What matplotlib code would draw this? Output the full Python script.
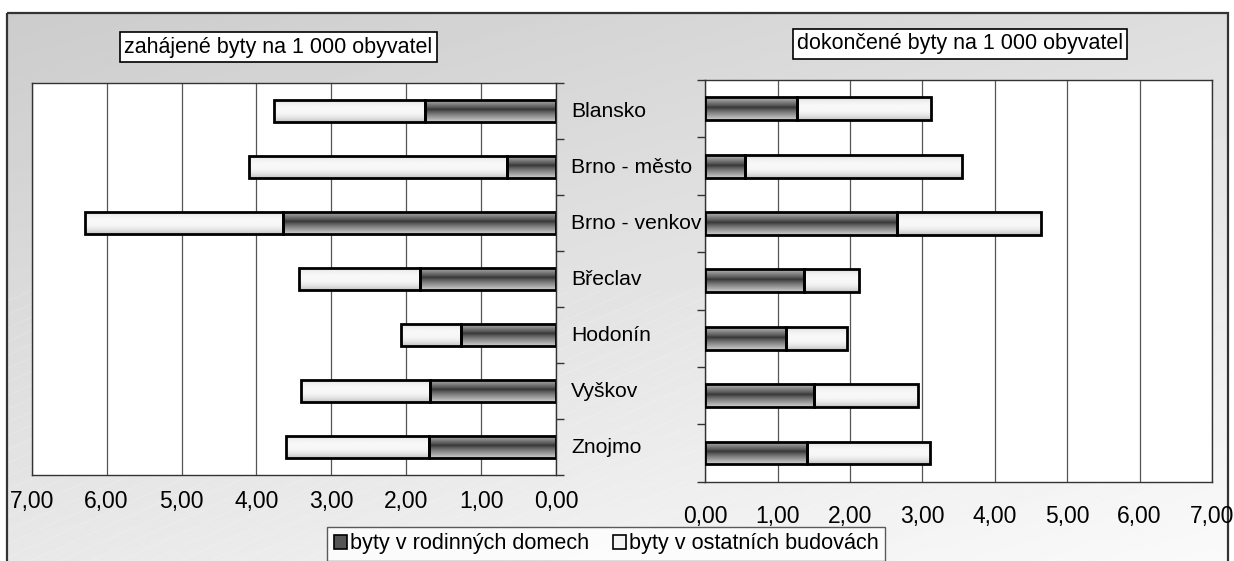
import numpy as np
import matplotlib
matplotlib.use("Agg")
import matplotlib.pyplot as plt
from matplotlib.patches import Rectangle, Patch
from matplotlib.ticker import FixedLocator, FuncFormatter

plt.rcParams['font.family'] = ['Liberation Sans', 'DejaVu Sans']

# data
okresy = ['Blansko', 'Brno - město', 'Brno - venkov', 'Břeclav', 'Hodonín', 'Vyškov', 'Znojmo']
zahajene_rd = [1.75, 0.66, 3.64, 1.81, 1.27, 1.68, 1.69]
zahajene_ost = [2.02, 3.44, 2.65, 1.62, 0.80, 1.73, 1.92]
dokoncene_rd = [1.26, 0.55, 2.65, 1.37, 1.11, 1.50, 1.41]
dokoncene_ost = [1.86, 3.00, 1.99, 0.76, 0.85, 1.44, 1.70]
ticks = [0, 1, 2, 3, 4, 5, 6, 7]
legenda = ['byty v rodinných domech', 'byty v ostatních budovách']

W, H = 1234, 561
fig = plt.figure(figsize=(W / 100, H / 100), dpi=100)
fig.patch.set_facecolor('white')

# gray gradient background inside frame
bg = fig.add_axes([0, 0, 1, 1], zorder=-10)
yy, xx = np.mgrid[0:1:200j, 0:1:400j]
g = 0.80 + 0.11 * yy + 0.07 * xx
bg.imshow(g, cmap='gray', vmin=0, vmax=1, extent=[7, 1228, 561, 13],
          aspect='auto', interpolation='bilinear')
for k in range(-40, 60):
    x0 = k * 30
    bg.plot([x0, x0 + 600], [561, 561 - 600 * 0.45], color='white', lw=0.5, alpha=0.25)
bg.add_patch(Rectangle((7, 13), 1221, 560, fill=False, edgecolor='#333333', lw=1.6, zorder=20))
bg.set_xlim(0, W)
bg.set_ylim(H, 0)
bg.axis('off')

# shading for the bars
t = np.linspace(0, 1, 64)
dark = 0.2 + 0.6 * np.abs(t - 0.45) ** 0.8 / 0.55 ** 0.8
dark = np.clip(dark, 0, 0.82)[:, None]
light = 0.97 - 0.22 * np.abs(t - 0.45) ** 2.5 / 0.55 ** 2.5
light = light[:, None]


def shade(ax, bars, grad):
    for p in bars:
        x, y, w, h = p.get_x(), p.get_y(), p.get_width(), p.get_height()
        im = ax.imshow(grad, cmap='gray', vmin=0, vmax=1, extent=[x, x + w, y + h, y],
                       aspect='auto', interpolation='bilinear', zorder=2.5)
        im.set_clip_path(p)


def draw(ax, rd, ost):
    pos = np.arange(len(okresy))
    b1 = ax.barh(pos, rd, height=0.4, facecolor='none', edgecolor='black', lw=2, zorder=3)
    b2 = ax.barh(pos, ost, left=rd, height=0.4, facecolor='none', edgecolor='black', lw=2, zorder=3)
    shade(ax, b1, dark)
    shade(ax, b2, light)
    ax.set_xlim(0, 7)
    ax.set_ylim(len(okresy) - 0.5, -0.5)
    ax.set_facecolor('white')
    ax.xaxis.set_major_locator(FixedLocator(ticks))
    ax.xaxis.set_major_formatter(FuncFormatter(lambda v, p: f'{v:.2f}'.replace('.', ',')))
    ax.grid(axis='x', color='#555555', lw=0.9, zorder=1)
    ax.set_axisbelow(True)
    ax.tick_params(axis='x', length=0, labelsize=16.5)
    ax.yaxis.set_major_locator(FixedLocator(np.arange(-0.5, len(okresy), 1)))
    ax.tick_params(axis='y', direction='out', length=6, width=1, color='#333333')
    for s in ax.spines.values():
        s.set_color('#333333')
        s.set_linewidth(1)


ax1 = fig.add_axes([31.7 / W, 1 - 475 / H, (556 - 31.7) / W, (475 - 83.3) / H])
draw(ax1, zahajene_rd, zahajene_ost)
ax1.invert_xaxis()
ax1.yaxis.tick_right()
ax1.set_yticklabels([])
ax1.tick_params(axis='x', pad=11)
for i, name in enumerate(okresy):
    ax1.text(1 + 15 / (556 - 31.7), 1 - (i + 0.5) / len(okresy), name, transform=ax1.transAxes,
             ha='left', va='center', fontsize=15.2)

ax2 = fig.add_axes([705.3 / W, 1 - 481.7 / H, (1212 - 705.3) / W, (481.7 - 80) / H])
draw(ax2, dokoncene_rd, dokoncene_ost)
ax2.set_yticklabels([])
ax2.tick_params(axis='x', pad=17)

# title boxes
fig.text(124 / W, 1 - 47 / H, 'zahájené byty na 1 000 obyvatel', fontsize=15.5, ha='left', va='center',
         bbox=dict(boxstyle='square,pad=0.2', facecolor='white', edgecolor='black', lw=1.2))
fig.text(797 / W, 1 - 44 / H, 'dokončené byty na 1 000 obyvatel', fontsize=15.5, ha='left', va='center',
         bbox=dict(boxstyle='square,pad=0.2', facecolor='white', edgecolor='black', lw=1.2))

handles = [Patch(facecolor='#555555', edgecolor='black', lw=1.2),
           Patch(facecolor='#f4f4f4', edgecolor='black', lw=1.2)]
leg = fig.legend(handles, legenda, loc='upper left', bbox_to_anchor=(327 / W, 1 - 527 / H),
                 fontsize=15.6, frameon=True, fancybox=False, ncol=2, handlelength=0.6,
                 handleheight=0.6, handletextpad=0.15, columnspacing=1.1, borderpad=0.3,
                 borderaxespad=0)
leg.get_frame().set_edgecolor('#333333')
leg.get_frame().set_linewidth(1)

fig.savefig('out.png', dpi=100)
